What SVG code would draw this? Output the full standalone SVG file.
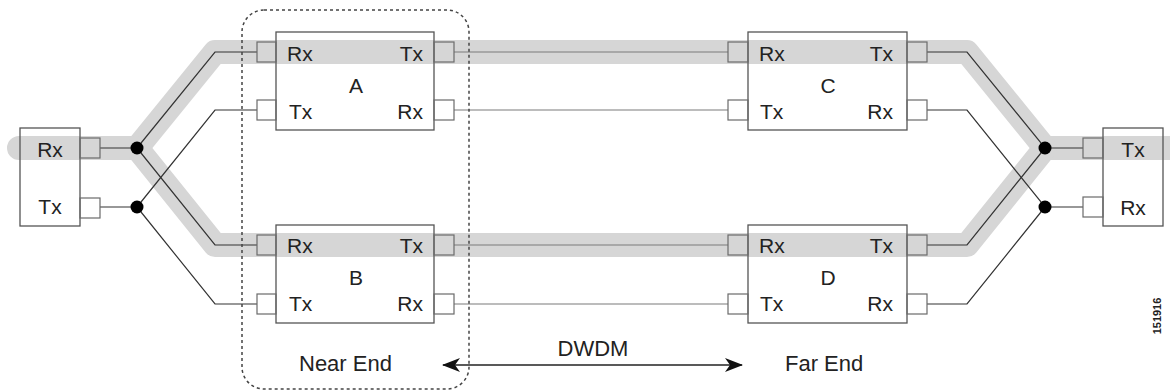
<svg xmlns="http://www.w3.org/2000/svg" width="1170" height="392" viewBox="0 0 1170 392">
<style>
.band{fill:none;stroke:#d6d6d6;stroke-width:24;stroke-linejoin:round;stroke-linecap:round}
.box{fill:none;stroke:#555;stroke-width:1.3}
.port{fill:none;stroke:#6a6a6a;stroke-width:1.2}
.wire{fill:none;stroke:#333;stroke-width:1.2}
.mid{fill:none;stroke:#7a7a7a;stroke-width:1.1}
.dot{fill:#000}
.t{font-family:"Liberation Sans",Arial,sans-serif;font-size:21px;fill:#222}
.l{font-family:"Liberation Sans",Arial,sans-serif;font-size:22px;fill:#222}
.zone{fill:none;stroke:#444;stroke-width:1.5;stroke-dasharray:3 3}
</style>
<defs>
<marker id="ah" viewBox="0 0 18 14" refX="17" refY="7" markerWidth="18" markerHeight="14" markerUnits="userSpaceOnUse" orient="auto-start-reverse">
<path d="M0,0 L18,7 L0,14 L5,7 Z" fill="#111"/>
</marker>
</defs>
<rect width="1170" height="392" fill="#fff"/>
<g id="highlight">
<path class="band" d="M19,148 L137,148 L215,52 L967,52 L1045,148 L1180,148"/>
<path class="band" d="M137,148 L215,245 L967,245 L1045,148"/>
</g>
<g id="connectors">
<path class="wire" d="M100,148 L137,148"/>
<path class="wire" d="M137,148 L215,52 L257,52"/>
<path class="wire" d="M137,148 L215,245 L257,245"/>
<path class="wire" d="M100,207 L137,207"/>
<path class="wire" d="M137,207 L215,110 L257,110"/>
<path class="wire" d="M137,207 L215,304 L257,304"/>
<path class="mid" d="M454,52 L728,52"/>
<path class="mid" d="M454,110 L728,110"/>
<path class="mid" d="M454,245 L728,245"/>
<path class="mid" d="M454,304 L728,304"/>
<path class="wire" d="M927,52 L967,52 L1045,148 L1083,148"/>
<path class="wire" d="M927,110 L967,110 L1045,207 L1083,207"/>
<path class="wire" d="M927,245 L967,245 L1045,148"/>
<path class="wire" d="M927,304 L967,304 L1045,207"/>
<circle class="dot" cx="137" cy="148" r="6.5"/>
<circle class="dot" cx="137" cy="207" r="6.5"/>
<circle class="dot" cx="1045" cy="148" r="6.5"/>
<circle class="dot" cx="1045" cy="207" r="6.5"/>
<line x1="443" y1="365" x2="742" y2="365" stroke="#222" stroke-width="1.3" marker-start="url(#ah)" marker-end="url(#ah)"/>
</g>
<g id="node-left">
<rect class="box" x="20" y="128" width="60" height="98"/>
<rect class="port" x="80" y="138" width="20" height="20"/>
<rect class="port" x="80" y="198" width="20" height="20"/>
<text class="t" x="50" y="157" text-anchor="middle">Rx</text>
<text class="t" x="50" y="214" text-anchor="middle">Tx</text>
</g>
<g id="node-A">
<rect class="box" x="276" y="32" width="158" height="98"/>
<rect class="port" x="257" y="42" width="19" height="20"/>
<rect class="port" x="257" y="100" width="19" height="20"/>
<rect class="port" x="434" y="42" width="20" height="20"/>
<rect class="port" x="434" y="100" width="20" height="20"/>
<text class="t" x="287" y="61">Rx</text>
<text class="t" x="423" y="61" text-anchor="end">Tx</text>
<text class="t" x="356" y="93" text-anchor="middle">A</text>
<text class="t" x="289" y="119">Tx</text>
<text class="t" x="423" y="119" text-anchor="end">Rx</text>
</g>
<g id="node-B">
<rect class="box" x="276" y="225" width="158" height="98"/>
<rect class="port" x="257" y="235" width="19" height="20"/>
<rect class="port" x="257" y="294" width="19" height="20"/>
<rect class="port" x="434" y="235" width="20" height="20"/>
<rect class="port" x="434" y="294" width="20" height="20"/>
<text class="t" x="287" y="253">Rx</text>
<text class="t" x="423" y="253" text-anchor="end">Tx</text>
<text class="t" x="356" y="285" text-anchor="middle">B</text>
<text class="t" x="289" y="311">Tx</text>
<text class="t" x="423" y="311" text-anchor="end">Rx</text>
</g>
<g id="node-C">
<rect class="box" x="748" y="32" width="159" height="98"/>
<rect class="port" x="728" y="42" width="20" height="20"/>
<rect class="port" x="728" y="100" width="20" height="20"/>
<rect class="port" x="907" y="42" width="20" height="20"/>
<rect class="port" x="907" y="100" width="20" height="20"/>
<text class="t" x="759" y="61">Rx</text>
<text class="t" x="893" y="61" text-anchor="end">Tx</text>
<text class="t" x="828" y="93" text-anchor="middle">C</text>
<text class="t" x="760" y="119">Tx</text>
<text class="t" x="893" y="119" text-anchor="end">Rx</text>
</g>
<g id="node-D">
<rect class="box" x="748" y="225" width="159" height="98"/>
<rect class="port" x="728" y="235" width="20" height="20"/>
<rect class="port" x="728" y="294" width="20" height="20"/>
<rect class="port" x="907" y="235" width="20" height="20"/>
<rect class="port" x="907" y="294" width="20" height="20"/>
<text class="t" x="759" y="253">Rx</text>
<text class="t" x="893" y="253" text-anchor="end">Tx</text>
<text class="t" x="828" y="285" text-anchor="middle">D</text>
<text class="t" x="760" y="311">Tx</text>
<text class="t" x="893" y="311" text-anchor="end">Rx</text>
</g>
<g id="node-right">
<rect class="box" x="1103" y="128" width="60" height="98"/>
<rect class="port" x="1083" y="138" width="20" height="20"/>
<rect class="port" x="1083" y="197" width="20" height="20"/>
<text class="t" x="1133" y="157" text-anchor="middle">Tx</text>
<text class="t" x="1133" y="215" text-anchor="middle">Rx</text>
</g>
<g id="near-end">
<rect class="zone" x="242" y="10" width="227" height="379" rx="22"/>
<text class="l" x="299" y="371">Near End</text>
</g>
<g id="labels">
<text class="l" x="593" y="356" text-anchor="middle">DWDM</text>
<text class="l" x="785" y="371">Far End</text>
<text x="1161" y="316" transform="rotate(-90 1161 316)" text-anchor="middle" font-family="Liberation Sans,Arial,sans-serif" font-size="11" font-weight="bold" fill="#222">151916</text>
</g>
</svg>
